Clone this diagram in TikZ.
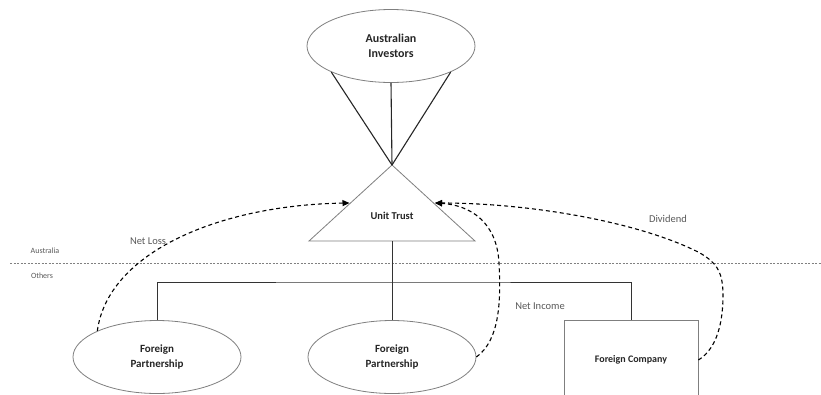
\documentclass[tikz,border=0pt]{standalone}
\usepackage{fontspec}
\setmainfont{Carlito}
\usetikzlibrary{shapes.geometric,arrows.meta}
\definecolor{edgegray}{HTML}{7F7F7F}
\definecolor{labelgray}{HTML}{595959}
\definecolor{textdark}{HTML}{262626}
\tikzset{
  ent/.style={ellipse,draw=edgegray,line width=0.8pt,fill=white,inner sep=0pt,
    minimum width=168pt,minimum height=73pt,align=center,font=\fontsize{11}{15}\selectfont\bfseries,text=textdark},
  boxnode/.style={rectangle,draw=edgegray,line width=0.8pt,fill=white,inner sep=0pt,
    minimum width=134pt,minimum height=80pt,font=\fontsize{10}{12}\selectfont\bfseries,text=textdark},
  lbl/.style={font=\fontsize{10.5}{12}\selectfont,text=labelgray,inner sep=0pt},
  small/.style={font=\fontsize{8}{10}\selectfont,text=labelgray,inner sep=0pt},
  link/.style={draw=black!85,line width=1.1pt},
  tree/.style={draw=black!80,line width=0.8pt},
  flow/.style={draw=black,line width=1.1pt,dash pattern=on 4pt off 3pt,-{Triangle[length=7pt,width=6pt]}},
  border/.style={draw=gray,line width=0.6pt,dash pattern=on 2pt off 1.5pt}
}
\begin{document}
\begin{tikzpicture}[x=1pt,y=-1pt]
\useasboundingbox (0,0) rectangle (821,394);
% triangle
\coordinate (apex) at (392,165);
\coordinate (bl) at (309,241);
\coordinate (br) at (475,241);
\coordinate (base) at (392,241);
\coordinate (bus) at (392,282);
\coordinate (lossin) at (349.5,203);
\coordinate (gainin) at (435,203);
\draw[draw=edgegray,line width=0.8pt,fill=white] (apex) -- (bl) -- (br) -- cycle;
\node[font=\fontsize{10.5}{12}\selectfont\bfseries,text=textdark] (ut) at (392,216) {Unit Trust};
% entities
\node[ent,font=\fontsize{12}{15}\selectfont\bfseries] (ai) at (391,46) {Australian\\Investors};
\node[ent] (fp1) at (157,357) {Foreign\\Partnership};
\node[ent] (fp2) at (392,357) {Foreign\\Partnership};
\node[boxnode] (fc) at (631,360) {Foreign Company};
% border
\coordinate (bdl) at (10,263);
\coordinate (bdr) at (821,263);
\draw[border] (bdl) -- (bdr);
\node[small] (aus) at (45,251) {Australia};
\node[small] (oth) at (42,276) {Others};
% investor links
\draw[link] (ai.south west) -- (apex);
\draw[link] (ai.south) -- (apex);
\draw[link] (ai.south east) -- (apex);
% tree
\draw[tree] (base) -- (fp2.north);
\draw[tree] (fp1.north) |- (bus) -| (fc.north);
% flows
\draw[flow] (fp1.north west) .. controls (108,252) and (220,205) .. (lossin);
\draw[flow] (fp2.east) .. controls (500,340) and (501,300) .. (499,263)
  .. controls (497,222) and (470,205) .. (gainin);
\draw[flow] (fc.east) .. controls (718,348) and (723,320) .. (723,295)
  .. controls (723,270) and (715,262) .. (700,253)
  .. controls (640,222) and (530,203) .. (gainin);
% labels
\node[lbl] (nl) at (148,241) {Net Loss};
\node[lbl] (ni) at (540,306) {Net Income};
\node[lbl] (dv) at (668,219) {Dividend};
\end{tikzpicture}
\end{document}
